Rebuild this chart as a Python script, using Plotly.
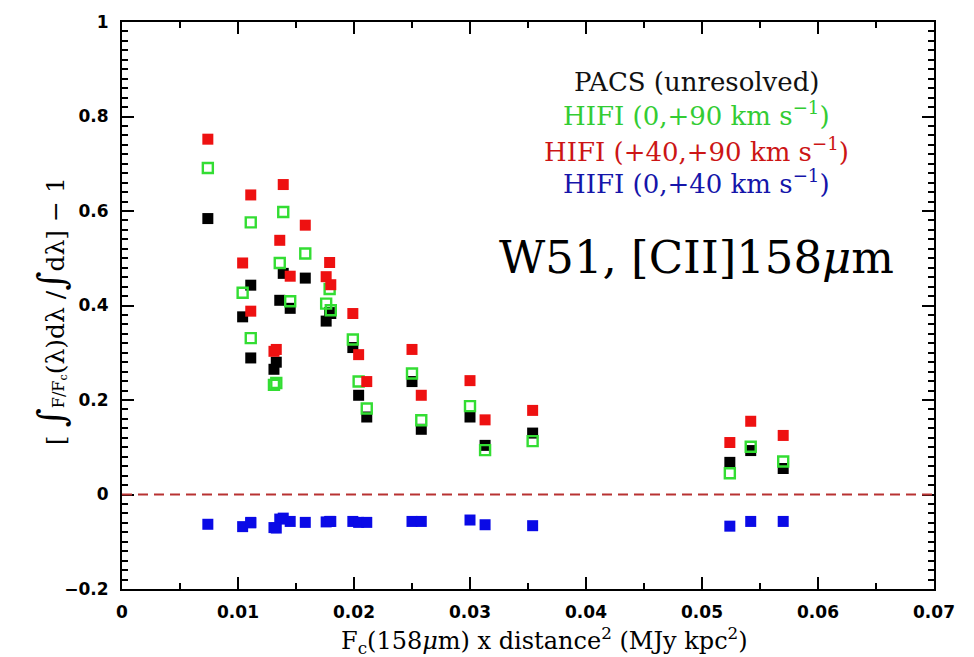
import plotly.graph_objects as go

# F_c(158um) x distance^2 for each sightline (MJy kpc^2)
flux_d2 = [0.0074, 0.0104, 0.0111, 0.0111, 0.0139, 0.0136, 0.0145, 0.0133, 0.0131,
           0.0158, 0.0179, 0.0176, 0.0180, 0.0199, 0.0204, 0.0211, 0.0250, 0.0258,
           0.0300, 0.0313, 0.0354, 0.0524, 0.0542, 0.0570]

# Integrated line-to-continuum excess for each data set
pacs_unresolved = [0.584, 0.376, 0.443, 0.289, 0.468, 0.411, 0.394, 0.280, 0.265,
                   0.458, 0.385, 0.367, 0.383, 0.311, 0.210, 0.164, 0.239, 0.138,
                   0.164, 0.104, 0.130, 0.068, 0.093, 0.055]
hifi_0_90 = [0.691, 0.427, 0.576, 0.331, 0.598, 0.490, 0.409, 0.236, 0.232,
             0.510, 0.435, 0.404, 0.390, 0.328, 0.239, 0.182, 0.256, 0.157,
             0.187, 0.094, 0.113, 0.045, 0.101, 0.070]
hifi_40_90 = [0.752, 0.490, 0.634, 0.388, 0.656, 0.538, 0.462, 0.307, 0.303,
              0.570, 0.491, 0.461, 0.444, 0.383, 0.296, 0.239, 0.307, 0.210,
              0.241, 0.158, 0.178, 0.110, 0.155, 0.125]
hifi_0_40 = [-0.063, -0.068, -0.059, -0.060, -0.050, -0.052, -0.057, -0.071, -0.070,
             -0.059, -0.057, -0.058, -0.057, -0.057, -0.059, -0.059, -0.057, -0.057,
             -0.054, -0.064, -0.066, -0.067, -0.057, -0.057]

x_ticks = [0, 0.01, 0.02, 0.03, 0.04, 0.05, 0.06, 0.07]
y_ticks = [-0.2, 0, 0.2, 0.4, 0.6, 0.8, 1]
x_tick_text = ["0", "0.01", "0.02", "0.03", "0.04", "0.05", "0.06", "0.07"]
y_tick_text = ["\u22120.2", "0", "0.2", "0.4", "0.6", "0.8", "1"]

BLACK = "#000000"
GREEN = "#33dd33"
RED = "#ee1111"
BLUE = "#0a0ae6"

fig = go.Figure()

fig.add_trace(go.Scatter(
    x=flux_d2, y=pacs_unresolved, mode="markers", name="PACS (unresolved)",
    marker=dict(symbol="square", size=11, color=BLACK, line=dict(width=0))))
fig.add_trace(go.Scatter(
    x=flux_d2, y=hifi_0_90, mode="markers", name="HIFI (0,+90)",
    marker=dict(symbol="square-open", size=10, color=GREEN, line=dict(width=2.4, color=GREEN))))
fig.add_trace(go.Scatter(
    x=flux_d2, y=hifi_40_90, mode="markers", name="HIFI (+40,+90)",
    marker=dict(symbol="square", size=11, color=RED, line=dict(width=0))))
fig.add_trace(go.Scatter(
    x=flux_d2, y=hifi_0_40, mode="markers", name="HIFI (0,+40)",
    marker=dict(symbol="square", size=11, color=BLUE, line=dict(width=0))))

# zero reference line
fig.add_shape(type="line", xref="x", yref="y", x0=0, x1=0.07, y0=0, y1=0,
              line=dict(color="#b83232", width=2.2, dash="10px,6px"))

axis_common = dict(
    showgrid=False, zeroline=False, showline=True, linecolor="black", linewidth=2,
    mirror="allticks", ticks="inside", ticklen=12, tickwidth=2, tickcolor="black",
    tickfont=dict(family="DejaVu Sans", size=17, color="black", weight="bold"),
)

fig.update_xaxes(range=[0, 0.07], tickvals=x_ticks, ticktext=x_tick_text,
                 ticklabelstandoff=7,
                 minor=dict(dtick=0.005, tick0=0, ticks="inside", ticklen=6,
                            tickwidth=2, tickcolor="black"),
                 **axis_common)
fig.update_yaxes(range=[-0.2, 1], tickvals=y_ticks, ticktext=y_tick_text,
                 ticklabelstandoff=8,
                 minor=dict(dtick=0.02, tick0=0, ticks="inside", ticklen=6,
                            tickwidth=2, tickcolor="black"),
                 **axis_common)

serif = "DejaVu Serif"
key_x = 0.708

annotations = [
    # axis titles
    dict(text="F<sub>c</sub>(158<i>\u03bc</i>m) x distance<sup>2</sup> (MJy kpc<sup>2</sup>)",
         xref="paper", yref="paper", x=0.52, y=-0.090, xanchor="center", yanchor="middle",
         showarrow=False, font=dict(family=serif, size=24, color="black")),
    dict(text=('[ <span style="font-size:37px">\u222b</span>'
               '<span style="font-size:16px">F/F<sub>c</sub></span>(\u03bb)d\u03bb '
               '/<span style="font-size:37px">\u222b</span>d\u03bb] \u2212 1'),
         xref="paper", yref="paper", x=-0.0874, y=0.49, xanchor="center", yanchor="middle",
         textangle=-90, showarrow=False, font=dict(family=serif, size=25, color="black")),
    # data-set key
    dict(text="PACS (unresolved)", xref="paper", yref="paper", x=key_x, y=0.895,
         xanchor="center", yanchor="middle", showarrow=False,
         font=dict(family=serif, size=26, color="#111111")),
    dict(text="HIFI (0,+90 km s<sup>\u22121</sup>)", xref="paper", yref="paper", x=key_x, y=0.837,
         xanchor="center", yanchor="middle", showarrow=False,
         font=dict(family=serif, size=26, color="#33cc33")),
    dict(text="HIFI (+40,+90 km s<sup>\u22121</sup>)", xref="paper", yref="paper", x=key_x, y=0.775,
         xanchor="center", yanchor="middle", showarrow=False,
         font=dict(family=serif, size=26, color="#cc1515")),
    dict(text="HIFI (0,+40 km s<sup>\u22121</sup>)", xref="paper", yref="paper", x=key_x, y=0.718,
         xanchor="center", yanchor="middle", showarrow=False,
         font=dict(family=serif, size=26, color="#1515aa")),
    dict(text="W51, [CII]158<i>\u03bc</i>m", xref="paper", yref="paper", x=key_x, y=0.585,
         xanchor="center", yanchor="middle", showarrow=False,
         font=dict(family=serif, size=45, color="black")),
]

fig.update_layout(
    width=974, height=657,
    margin=dict(l=122, r=40, t=15, b=68),
    paper_bgcolor="white", plot_bgcolor="white",
    showlegend=False,
    annotations=annotations,
)

fig.write_html("out.html")
